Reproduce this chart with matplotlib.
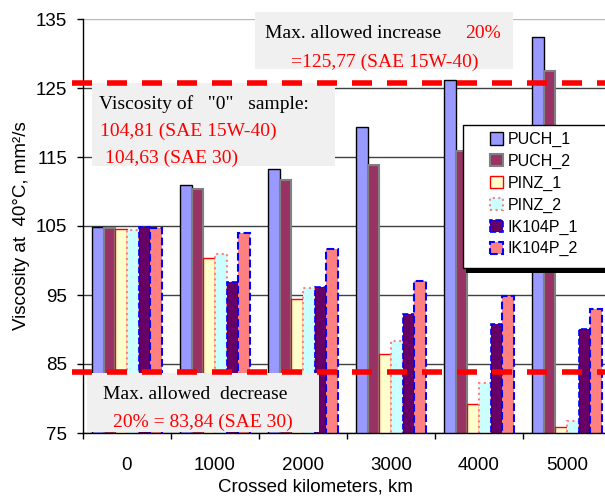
import matplotlib
matplotlib.use("Agg")
import matplotlib.pyplot as plt
import numpy as np
from matplotlib.patches import Rectangle, Patch

plt.rcParams["font.family"] = ["Liberation Sans", "DejaVu Sans"]

W, H = 605, 497

km_labels = ["0", "1000", "2000", "3000", "4000", "5000"]
series_names = ["PUCH_1", "PUCH_2", "PINZ_1", "PINZ_2", "IK104P_1", "IK104P_2"]
puch_1 = [104.81, 110.9, 113.2, 119.4, 126.2, 132.4]
puch_2 = [104.7, 110.3, 111.7, 113.8, 115.8, 127.4]
pinz_1 = [104.63, 100.4, 94.4, 86.4, 79.2, 75.8]
pinz_2 = [104.4, 100.9, 96.0, 88.4, 82.2, 76.7]
ik104p_1 = [104.9, 96.9, 96.1, 92.3, 90.8, 90.1]
ik104p_2 = [104.7, 104.0, 101.7, 97.1, 94.8, 93.0]
max_increase = 125.77
max_decrease = 83.84

series = [puch_1, puch_2, pinz_1, pinz_2, ik104p_1, ik104p_2]
styles = [
    dict(facecolor="#9999ff", edgecolor="black", linewidth=1.0, linestyle="-"),
    dict(facecolor="#993366", edgecolor="#808080", linewidth=1.5, linestyle="-"),
    dict(facecolor="#ffffcc", edgecolor="#ff0000", linewidth=1.0, linestyle="-"),
    dict(facecolor="#ccffff", edgecolor="#ff8080", linewidth=1.5, linestyle=":"),
    dict(facecolor="#660066", edgecolor="#0000ff", linewidth=1.2, linestyle="--"),
    dict(facecolor="#ff8080", edgecolor="#0000ff", linewidth=1.5, linestyle="--"),
]


def fx(px):
    return px / W


def fy(py):
    return 1 - py / H


fig = plt.figure(figsize=(W / 100, H / 100), dpi=100)
ax = fig.add_axes([fx(83), fy(433), 528 / W, 414 / H])

x = np.arange(len(km_labels))
bar_w = 0.1326
for i, (vals, st) in enumerate(zip(series, styles)):
    ax.bar(x + (i - 2.5) * bar_w, vals, width=bar_w, zorder=2, **st)

ax.set_xlim(-0.5, 5.5)
ax.set_ylim(75, 135)
ax.set_yticks(np.arange(75, 136, 10))
ax.set_xticks(x)
ax.set_xticklabels(km_labels)
ax.set_xticks(np.arange(-0.5, 5.6, 1), minor=True)
ax.tick_params(axis="x", which="major", length=0, pad=17, labelsize=13.5)
ax.tick_params(axis="x", which="minor", length=4.5, width=1, direction="out")
ax.tick_params(axis="y", length=4.5, width=1, direction="out", pad=7, labelsize=13.5)

ax.set_axisbelow(True)
ax.grid(axis="y", color="#404040", linewidth=1)
ax.get_ygridlines()[-1].set_color("#b8b8b8")
for side in ("top", "right"):
    ax.spines[side].set_visible(False)
for side in ("left", "bottom"):
    ax.spines[side].set_linewidth(1)

# limit lines, running slightly past the left axis
for level in (max_increase, max_decrease):
    ax.plot([-0.63, 5.6], [level, level], color="#ff0000", lw=4,
            dashes=(3.6, 2.7), solid_capstyle="butt", dash_capstyle="butt",
            clip_on=False, zorder=6)

# grey note boxes
boxes = [(255, 12, 513, 69), (92, 83, 335, 166), (87, 373, 319, 432)]
for x0, y0, x1, y1 in boxes:
    ax.add_patch(Rectangle((fx(x0), fy(y1)), fx(x1) - fx(x0), fy(y0) - fy(y1),
                           transform=fig.transFigure, facecolor="#f0f0f0",
                           edgecolor="none", clip_on=False, zorder=4))

notes = [
    (265, 38, "Max. allowed increase", "black"),
    (465, 38, "20%", "#ff0000"),
    (291, 67, "=125,77 (SAE 15W-40)", "#ff0000"),
    (99, 109, 'Viscosity of   "0"   sample:', "black"),
    (100, 136, "104,81 (SAE 15W-40)", "#ff0000"),
    (105, 163, "104,63 (SAE 30)", "#ff0000"),
    (103, 399, "Max. allowed  decrease", "black"),
    (113, 427, "20% = 83,84 (SAE 30)", "#ff0000"),
]
for px, py, txt, col in notes:
    ax.text(fx(px), fy(py), txt, transform=fig.transFigure, ha="left",
            va="baseline", color=col, fontsize=14,
            family=["Liberation Serif", "DejaVu Serif"], zorder=5)

# legend frame with a solid drop shadow
ax.add_patch(Rectangle((fx(466), fy(273)), fx(620) - fx(466), fy(130) - fy(273),
                       transform=fig.transFigure, facecolor="black",
                       edgecolor="none", clip_on=False, zorder=7))
ax.add_patch(Rectangle((fx(463), fy(268)), fx(620) - fx(463), fy(125) - fy(268),
                       transform=fig.transFigure, facecolor="white",
                       edgecolor="black", linewidth=1, clip_on=False, zorder=7))
handles = [Patch(label=n, **st) for n, st in zip(series_names, styles)]
leg = ax.legend(handles=handles, loc="upper left",
                bbox_to_anchor=(fx(490), fy(132)), bbox_transform=fig.transFigure,
                frameon=False, fontsize=11.5, handlelength=0.8, handleheight=0.8,
                handletextpad=0.3, labelspacing=0.42, borderpad=0,
                borderaxespad=0)
leg.set_zorder(8)

fig.text(fx(22), fy(226), "Viscosity at  40°C, mm²/s", rotation=90,
         ha="center", va="center", fontsize=13.5)
fig.text(fx(315), fy(492), "Crossed kilometers, km", ha="center",
         va="baseline", fontsize=13.5)

fig.savefig("out.png", dpi=100)
